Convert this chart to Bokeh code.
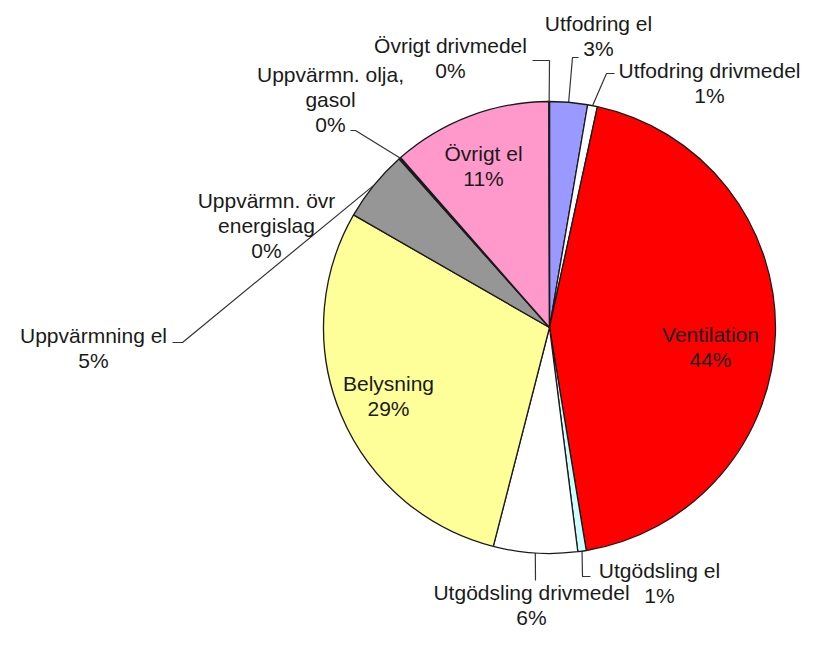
import math
from bokeh.plotting import figure
from bokeh.models import Range1d, ColumnDataSource
from bokeh.core.properties import value
from bokeh.embed import file_html
from bokeh.resources import INLINE

# ---- data (clockwise from 12 o'clock) ----
categories = ["Utfodring el", "Utfodring drivmedel", "Ventilation", "Utgödsling el",
              "Utgödsling drivmedel", "Belysning", "Uppvärmning el",
              "Uppvärmn. övr energislag", "Uppvärmn. olja, gasol", "Övrigt el",
              "Övrigt drivmedel"]
display_names = ["Utfodring el", "Utfodring drivmedel", "Ventilation", "Utgödsling el",
                 "Utgödsling drivmedel", "Belysning", "Uppvärmning el",
                 "Uppvärmn. övr\nenergislag", "Uppvärmn. olja,\ngasol", "Övrigt el",
                 "Övrigt drivmedel"]
shares = [2.7, 0.7, 44.0, 0.6, 6.0, 29.3, 5.1, 0.05, 0.1, 11.4, 0.05]
colors = ["#9999FF", "#FFFFFF", "#FF0000", "#CCFFFF", "#FFFFFF", "#FFFF99",
          "#969696", "#FFFFFF", "#FFFFFF", "#FF99CC", "#FFFFFF"]

# ---- layout (reference picture pixel coordinates) ----
W, H = 802, 629
CX, CY, R = 549, 327, 226
label_pos = [(598, 35), (709, 82), (710, 346), (659, 582), (531, 604), (388, 395),
             (93, 347), (266, 225), (330, 99), (483, 165), (450, 57)]
leader_elbows = [[(578, 57), (572, 57)], [(614, 73), (606, 73)], None,
                 [(590, 576), (582, 576)], [(535, 580)], None,
                 [(172, 342), (182, 342)], None, [(350, 130), (355, 130)], None,
                 [(532, 60), (549, 60)]]
LINE_H = 25


def fy(y_img):
    return H - y_img


p = figure(width=W, height=H, output_backend="svg", toolbar_location=None,
           x_range=Range1d(0, W), y_range=Range1d(0, H),
           min_border=0, background_fill_color="white", border_fill_color="white")
p.axis.visible = False
p.grid.visible = False
p.outline_line_color = None

total = sum(shares)
starts, ends, mids = [], [], []
c = 0.0
for s in shares:
    f0 = c / total
    c += s
    f1 = c / total
    starts.append(math.pi / 2 - 2 * math.pi * f0)
    ends.append(math.pi / 2 - 2 * math.pi * f1)
    mids.append((f0 + f1) / 2)

src = ColumnDataSource(dict(start=starts, end=ends, color=colors, name=categories))
p.wedge(x=CX, y=fy(CY), radius=R, start_angle="start", end_angle="end",
        direction="clock", fill_color="color", line_color="#1a1a1a",
        line_width=1.3, source=src)

# leader lines
xs, ys = [], []
for elbow, m in zip(leader_elbows, mids):
    if elbow is None:
        continue
    ang = 2 * math.pi * m
    px = CX + R * math.sin(ang)
    py = CY - R * math.cos(ang)
    pts = list(elbow) + [(px, py)]
    xs.append([q[0] for q in pts])
    ys.append([fy(q[1]) for q in pts])
p.multi_line(xs=xs, ys=ys, line_color="#333333", line_width=1.2)

# labels
tx, ty, tt = [], [], []
for name, s, (lx, ly) in zip(display_names, shares, label_pos):
    lines = name.split("\n") + ["%d%%" % round(s)]
    n = len(lines)
    for i, t in enumerate(lines):
        tx.append(lx)
        ty.append(fy(ly + (i - (n - 1) / 2) * LINE_H))
        tt.append(t)
p.text(x=tx, y=ty, text=tt, text_align="center", text_baseline="middle",
       text_font=value("Liberation Sans"), text_font_size="21px",
       text_color="#1a1a1a")

open("out.html", "w").write(file_html(p, INLINE))
